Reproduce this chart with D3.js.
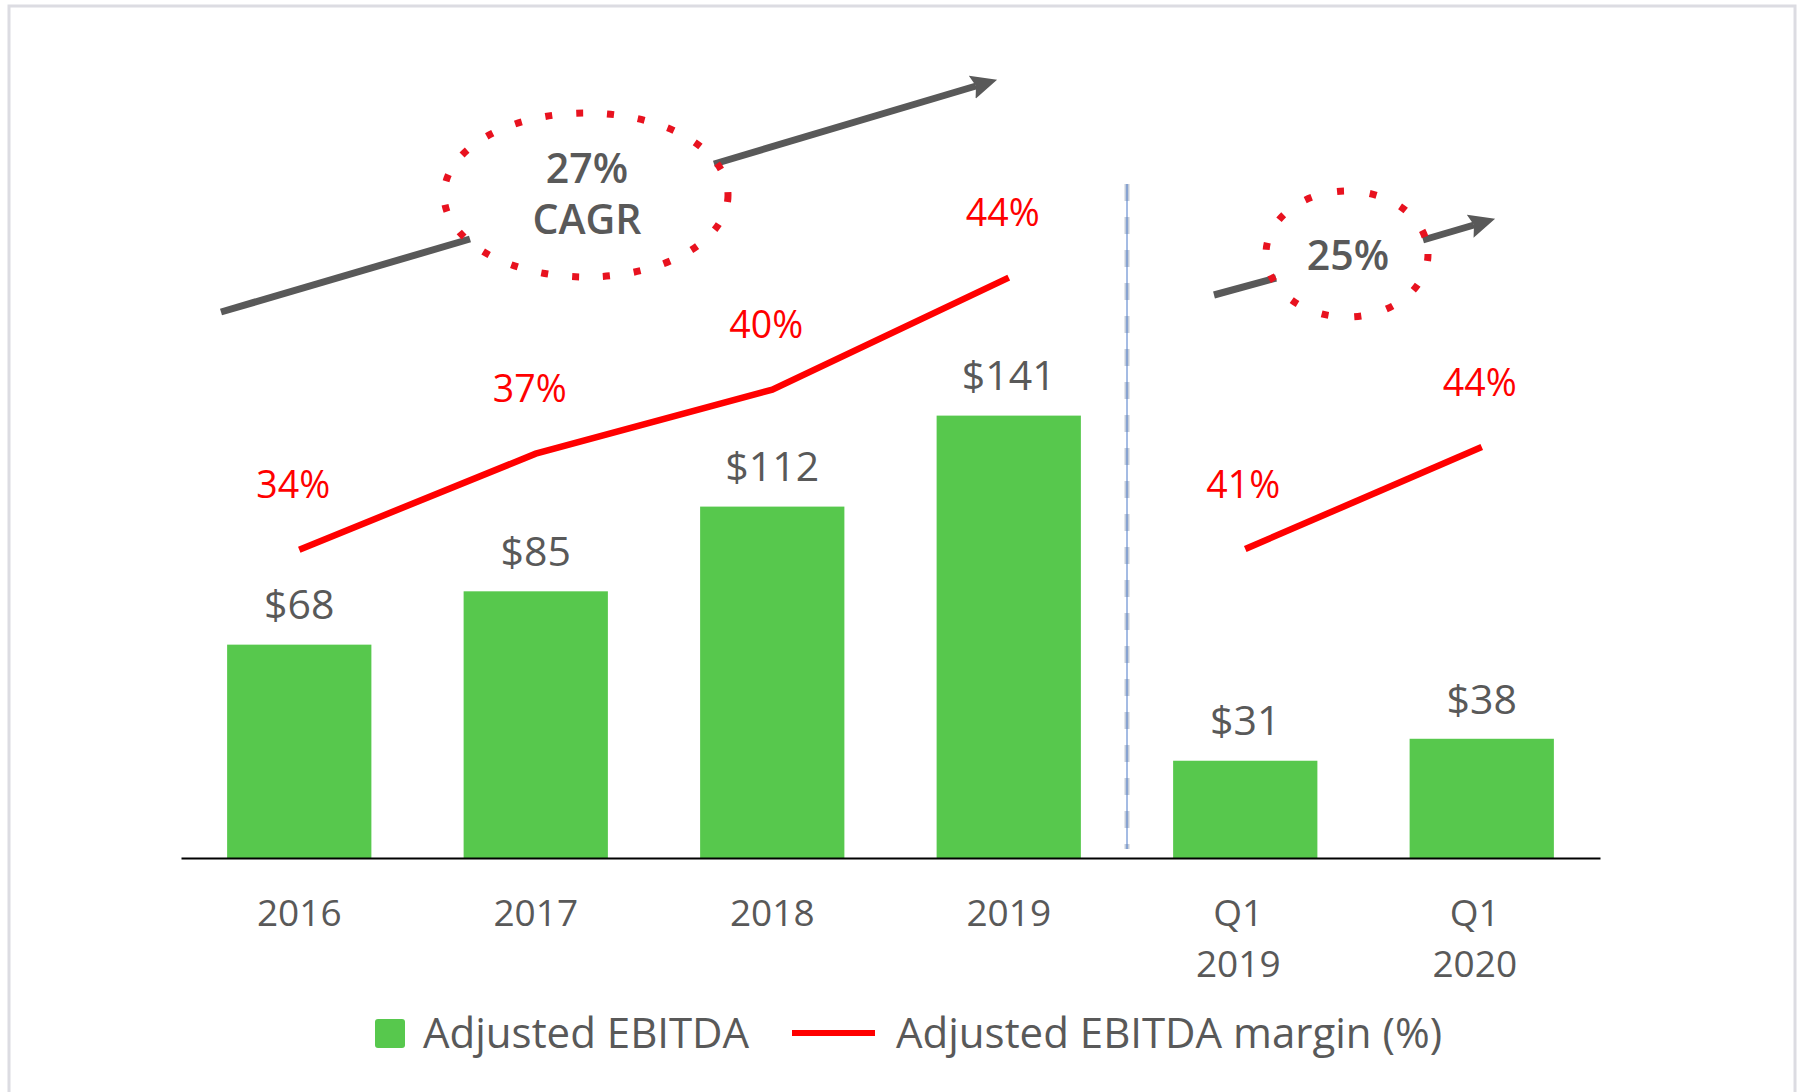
<!DOCTYPE html>
<html>
<head>
<meta charset="utf-8">
<script src="https://cdn.jsdelivr.net/npm/d3@7"></script>
<style>
  html, body { margin: 0; padding: 0; background: #fff; }
  svg { display: block; font-family: "Open Sans", sans-serif; }
</style>
</head>
<body>
<div id="chart"></div>
<script>
  var width = 1799;
  var height = 1092;

  // data
  var categories = ['2016', '2017', '2018', '2019', 'Q1 2019', 'Q1 2020'];
  var ebitda = [68, 85, 112, 141, 31, 38];
  var yearCats = ['2016', '2017', '2018', '2019'];
  var yearMargin = [33.8, 37.4, 39.8, 44.0];
  var quarterCats = ['Q1 2019', 'Q1 2020'];
  var quarterMargin = [41, 44];

  var green = '#57c84d';
  var red = '#ff0000';
  var grey = '#595959';

  var svg = d3.select('#chart').append('svg')
    .attr('width', width)
    .attr('height', height);

  // light frame round the slide area
  svg.append('rect')
    .attr('x', 9).attr('y', 6)
    .attr('width', 1786).attr('height', 1200)
    .attr('fill', 'none')
    .attr('stroke', '#dcdce2')
    .attr('stroke-width', 3);

  var x = d3.scaleBand()
    .domain(categories)
    .range([181, 1600])
    .paddingInner(0.39)
    .paddingOuter(0.195);
  var bw = x.bandwidth();

  var y = d3.scaleLinear().domain([0, 160]).range([858, 356]);
  // each panel has its own margin axis (like two combined charts)
  var marginY = d3.scaleLinear().domain([30, 45]).range([651, 251]);
  var marginYQ = d3.scaleLinear().domain([41, 44]).range([549, 447]);

  /*
   * Bars
   */
  svg.append('g').selectAll('rect')
    .data(categories)
    .enter().append('rect')
    .attr('x', function(d) { return x(d); })
    .attr('y', function(d, i) { return y(ebitda[i]); })
    .attr('width', bw)
    .attr('height', function(d, i) { return y(0) - y(ebitda[i]); })
    .attr('fill', green);

  svg.append('g').selectAll('text')
    .data(categories)
    .enter().append('text')
    .attr('x', function(d) { return x(d) + bw / 2; })
    .attr('y', function(d, i) { return y(ebitda[i]) - 40; })
    .attr('dy', '0.36em')
    .attr('text-anchor', 'middle')
    .attr('font-size', 41)
    .attr('fill', grey)
    .text(function(d, i) { return '$' + ebitda[i]; });

  /*
   * Margin lines
   */
  function drawMargin(cats, values, scale, shift) {
    var pts = cats.map(function(c, i) { return { cat: c, v: values[i] }; });
    var line = d3.line()
      .x(function(d) { return x(d.cat) + bw / 2; })
      .y(function(d) { return scale(d.v); });
    svg.append('path')
      .datum(pts)
      .attr('d', line)
      .attr('fill', 'none')
      .attr('stroke', red)
      .attr('stroke-width', 6.5);
    svg.append('g').selectAll('text')
      .data(pts)
      .enter().append('text')
      .attr('x', function(d) { return x(d.cat) + bw / 2 + shift; })
      .attr('y', function(d) { return scale(d.v) - 65; })
      .attr('dy', '0.36em')
      .attr('text-anchor', 'middle')
      .attr('font-size', 37.5)
      .attr('fill', red)
      .text(function(d) { return Math.round(d.v) + '%'; });
  }
  drawMargin(yearCats, yearMargin, marginY, -6);
  drawMargin(quarterCats, quarterMargin, marginYQ, -2);

  /*
   * Axis
   */
  var axis = svg.append('g')
    .attr('transform', 'translate(0,' + y(0) + ')')
    .call(d3.axisBottom(x).tickSize(0).tickSizeOuter(0).tickPadding(42));
  axis.select('.domain').attr('stroke', '#000').attr('stroke-width', 2);
  axis.selectAll('.tick text')
    .attr('font-family', '"Open Sans", sans-serif')
    .attr('font-size', 37)
    .attr('fill', grey)
    .each(function(d) {
      var t = d3.select(this);
      var parts = d.split(' ');
      t.text(null);
      parts.forEach(function(p, i) {
        t.append('tspan').attr('x', parts.length > 1 ? -7 : 0)
          .attr('dy', i === 0 ? '0.71em' : '1.38em').text(p);
      });
    })
    .attr('dy', null);

  /*
   * Separator between years and quarters
   */
  var sepX = (x('2019') + bw + x('Q1 2019')) / 2;
  svg.append('line')
    .attr('x1', sepX).attr('x2', sepX).attr('y1', 184).attr('y2', 849)
    .attr('stroke', '#c5cdd9').attr('stroke-width', 5)
    .attr('stroke-dasharray', '17 16');
  svg.append('line')
    .attr('x1', sepX).attr('x2', sepX).attr('y1', 184).attr('y2', 849)
    .attr('stroke', '#4a78c8').attr('stroke-width', 1);

  /*
   * Growth annotations
   */
  svg.append('defs').append('marker')
    .attr('id', 'head')
    .attr('markerUnits', 'userSpaceOnUse')
    .attr('markerWidth', 28).attr('markerHeight', 26)
    .attr('refX', 4).attr('refY', 13)
    .attr('orient', 'auto')
    .append('path')
    .attr('d', 'M0,1 L26,13 L0,25 L4,13 z')
    .attr('fill', grey);

  function arrow(x1, y1, x2, y2, head) {
    var l = svg.append('line')
      .attr('x1', x1).attr('y1', y1).attr('x2', x2).attr('y2', y2)
      .attr('stroke', grey).attr('stroke-width', 7);
    if (head) {
      l.attr('marker-end', 'url(#head)');
    }
  }

  arrow(221, 312, 470, 239, false);
  arrow(714, 164, 976, 86, true);
  arrow(1214, 295, 1276, 278, false);
  arrow(1423, 240, 1474, 225, true);

  function bubble(cx, cy, rx, ry, dash) {
    svg.append('ellipse')
      .attr('cx', cx).attr('cy', cy).attr('rx', rx).attr('ry', ry)
      .attr('fill', 'none')
      .attr('stroke', '#e8121f')
      .attr('stroke-width', 7)
      .attr('stroke-dasharray', dash);
  }
  bubble(586, 195, 142, 82, '7 24');
  bubble(1347, 254, 81, 63, '7 26');

  var cagr = svg.append('text')
    .attr('text-anchor', 'middle').attr('font-size', 41).attr('font-weight', 600)
    .attr('fill', grey);
  cagr.append('tspan').attr('x', 587).attr('y', 168).attr('dy', '0.36em').text('27%');
  cagr.append('tspan').attr('x', 587).attr('y', 219).attr('dy', '0.36em').text('CAGR');

  svg.append('text')
    .attr('x', 1348).attr('y', 255).attr('dy', '0.36em')
    .attr('text-anchor', 'middle').attr('font-size', 41).attr('font-weight', 600)
    .attr('fill', grey).text('25%');

  /*
   * Legend
   */
  var legend = svg.append('g');
  legend.append('rect')
    .attr('x', 375).attr('y', 1019).attr('width', 30).attr('height', 29)
    .attr('rx', 3).attr('fill', green);
  legend.append('text')
    .attr('x', 423).attr('y', 1033).attr('dy', '0.36em')
    .attr('font-size', 42).attr('fill', grey)
    .text('Adjusted EBITDA');
  legend.append('line')
    .attr('x1', 792).attr('x2', 875).attr('y1', 1033).attr('y2', 1033)
    .attr('stroke', red).attr('stroke-width', 6);
  legend.append('text')
    .attr('x', 896).attr('y', 1033).attr('dy', '0.36em')
    .attr('font-size', 42).attr('fill', grey)
    .text('Adjusted EBITDA margin (%)');
</script>
</body>
</html>
